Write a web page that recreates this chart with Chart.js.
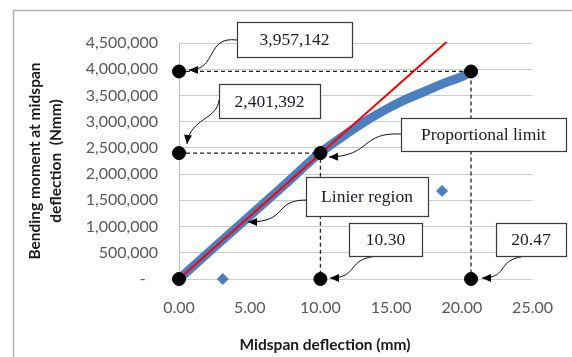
<!DOCTYPE html>
<html>
<head>
<meta charset="utf-8">
<script src="https://cdn.jsdelivr.net/npm/chart.js@4.4.1/dist/chart.umd.min.js"></script>
<style>
  html,body{margin:0;padding:0;background:#fff}
  #wrap{width:572px;height:357px;position:relative}
</style>
</head>
<body>
<div id="wrap"><canvas id="c"></canvas></div>
<script>
// measured curve (thick blue band)
const blueX = [0, 2.5, 5.0, 7.5, 10.0, 11.8, 13.2, 14.6, 16.0, 17.4, 18.8, 20.0, 20.3];
const blueY = [0, 605000, 1205000, 1805000, 2410000, 2760000, 3010000, 3230000, 3420000, 3580000, 3740000, 3860000, 3900000];
// stray points
const strayX = [3.1, 18.6];
const strayY = [0, 1680000];
// linear fit line
const redX = [0, 18.92];
const redY = [0, 4520000];
// marked points
const markX = [0, 20.65, 0, 10.0, 0, 10.0, 20.65];
const markY = [3957142, 3957142, 2401392, 2401392, 0, 0, 0];
// guide lines
const guideTopX = [0, 20.65, 20.65];
const guideTopY = [3957142, 3957142, 0];
const guideMidX = [0, 10.0, 10.0];
const guideMidY = [2401392, 2401392, 0];
// axes
const xTicks = [0, 5, 10, 15, 20, 25];
const yTicks = [0, 500000, 1000000, 1500000, 2000000, 2500000, 3000000, 3500000, 4000000, 4500000];
const callouts = ['3,957,142', '2,401,392', 'Proportional limit', 'Linier region', '10.30', '20.47'];

function pts(xs, ys){ return xs.map((x,i)=>({x:x, y:ys[i]})); }

const annot = {
  id:'annot',
  beforeDraw(chart){
    const c = chart.ctx;
    c.save();
    c.strokeStyle = '#b4b4b4'; c.lineWidth = 1.5;
    c.beginPath(); c.moveTo(13.5, 357); c.lineTo(13.5, 10.5); c.lineTo(572, 10.5); c.stroke();
    c.restore();
  },
  afterDraw(chart){
    const c = chart.ctx;
    c.save();
    // x title
    c.font = 'bold 15.5px Lato';
    c.fillStyle = '#1a1a1a';
    c.textAlign = 'center'; c.textBaseline = 'middle';
    c.fillText('Midspan deflection (mm)', 325, 345);

    function curve(p){
      c.strokeStyle = '#111'; c.lineWidth = 1;
      c.beginPath(); c.moveTo(p[0],p[1]);
      c.bezierCurveTo(p[2],p[3],p[4],p[5],p[6],p[7]); c.stroke();
      const a = Math.atan2(p[7]-p[5], p[6]-p[4]);
      const L = 9, W = 4;
      c.fillStyle = '#000';
      c.beginPath();
      c.moveTo(p[6], p[7]);
      c.lineTo(p[6]-L*Math.cos(a)+W*Math.sin(a), p[7]-L*Math.sin(a)-W*Math.cos(a));
      c.lineTo(p[6]-L*Math.cos(a)-W*Math.sin(a), p[7]-L*Math.sin(a)+W*Math.cos(a));
      c.closePath(); c.fill();
    }
    function box(x,y,w,h,t){
      c.fillStyle = '#fff'; c.fillRect(x,y,w,h);
      c.strokeStyle = '#3a3a3a'; c.lineWidth = 1.2; c.strokeRect(x+0.5,y+0.5,w,h);
      c.fillStyle = '#1c1c2c';
      c.font = '17.5px "Liberation Serif"';
      c.textAlign = 'center'; c.textBaseline = 'middle';
      c.fillText(t, x+w/2, y+h/2+1);
    }
    curve([237,40, 205,36, 218,70, 189,70]);
    curve([219,100, 217,120, 190,118, 187,144]);
    curve([401,134, 360,132, 372,156, 329,157]);
    curve([307,200, 272,200, 290,222, 248,222]);
    curve([379,256, 345,258, 360,278, 330,278]);
    curve([528,256, 495,258, 510,278, 482,278]);
    box(237,22,115,35, callouts[0]);
    box(219,84,101,34, callouts[1]);
    box(401,118,165,33, callouts[2]);
    box(306,177,122,39, callouts[3]);
    box(349,223,73,33, callouts[4]);
    box(496,223,70,33, callouts[5]);
    c.restore();
  }
};

new Chart(document.getElementById('c'), {
  type:'scatter',
  data:{
    datasets:[
      { data: pts(markX, markY), pointRadius:6.5, pointHoverRadius:6.5, pointBackgroundColor:'#000', pointBorderColor:'#000', showLine:false, clip:false },
      { data: pts(guideTopX, guideTopY), showLine:true, pointRadius:0, borderColor:'#222', borderWidth:1.3, borderDash:[4,3], clip:false },
      { data: pts(guideMidX, guideMidY), showLine:true, pointRadius:0, borderColor:'#222', borderWidth:1.3, borderDash:[4,3], clip:false },
      { data: pts(redX, redY), showLine:true, pointRadius:0, borderColor:'#ff0000', borderWidth:2, clip:false },
      { data: pts(blueX, blueY), showLine:true, pointRadius:0, borderColor:'#4a7fc1', borderWidth:9, borderCapStyle:'round', cubicInterpolationMode:'monotone', clip:false },
      { data: pts(strayX, strayY), pointStyle:'rectRot', pointRadius:5.5, pointBackgroundColor:'#4a7fc1', pointBorderColor:'#4a7fc1', showLine:false, clip:false }
    ]
  },
  options:{
    responsive:true, maintainAspectRatio:false, animation:false,
    layout:{ padding:{ top:43, right:38, left:0, bottom:0 } },
    plugins:{ legend:{display:false}, tooltip:{enabled:false} },
    scales:{
      x:{
        type:'linear', min:0, max:25,
        afterFit: s => { s.height = 78; },
        afterBuildTicks: s => { s.ticks = xTicks.map(v=>({value:v})); },
        grid:{ display:false, drawTicks:false },
        border:{ display:false },
        ticks:{ padding:19, color:'#595959', font:{family:'Lato', size:16}, callback: v => Number(v).toFixed(2) }
      },
      y:{
        type:'linear', min:0, max:4500000,
        afterFit: s => { s.width = 179; },
        afterBuildTicks: s => { s.ticks = yTicks.map(v=>({value:v})); },
        grid:{ color:'#cccccc', lineWidth:1, drawTicks:false },
        border:{ display:true, color:'#bdbdbd', width:1 },
        ticks:{ padding:21, color:'#595959', font:{family:'Lato', size:16},
          callback: v => v === 0 ? '-   ' : Number(v).toLocaleString('en-US') },
        title:{ display:true, text:['Bending moment at midspan', 'deflection  (Nmm)'],
          color:'#1a1a1a', font:{family:'Lato', size:15.5, weight:'bold', lineHeight:1.35}, padding:{top:25} }
      }
    }
  },
  plugins:[annot]
});
</script>
</body>
</html>
